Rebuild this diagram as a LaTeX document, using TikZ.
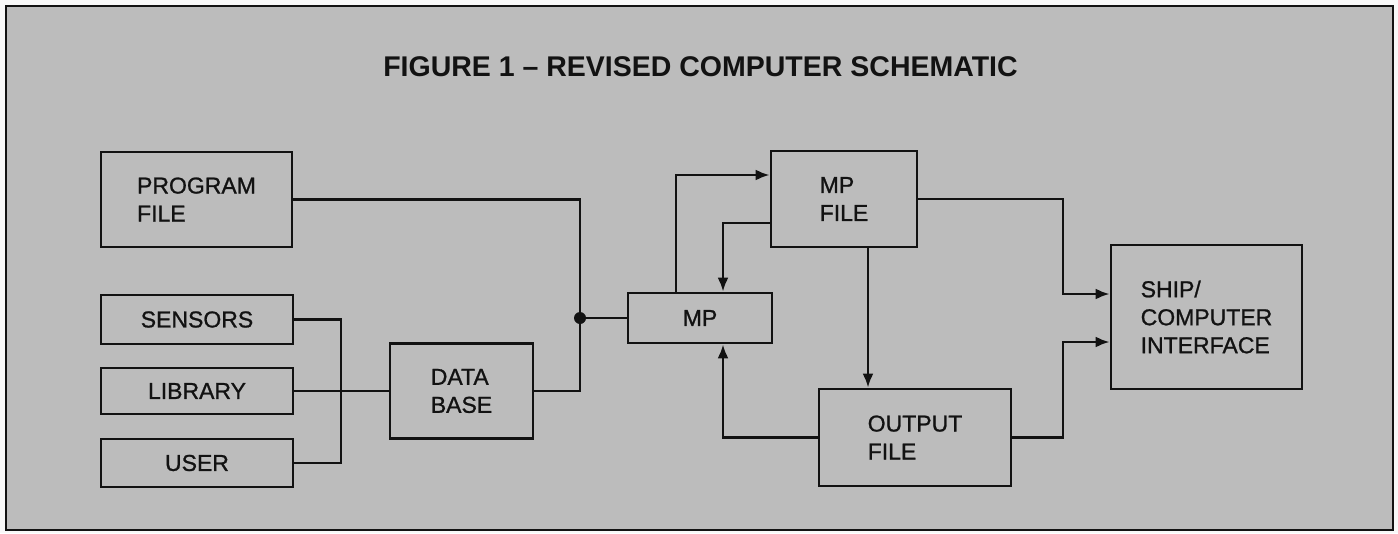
\documentclass[tikz,border=0pt]{standalone}
\usepackage{fontspec}
\setmainfont{Liberation Sans}
\newfontfamily\boxfont[FakeBold=1]{Liberation Sans}
\usetikzlibrary{arrows.meta,calc}
\definecolor{bg}{RGB}{188,188,188}
\definecolor{ink}{RGB}{18,18,18}
\begin{document}
\begin{tikzpicture}[x=1pt,y=-1pt,
 box/.style={draw=ink,line width=2.8pt,rectangle,inner sep=0pt,align=left,
   font=\boxfont\fontsize{23}{28}\selectfont,text=ink},
 wire/.style={draw=ink,line width=2.5pt},
 arr/.style={wire,-{Latex[length=14pt,width=11pt]}}]
\useasboundingbox (0,0) rectangle (1398,533);
\fill[white!90!bg] (0,0) rectangle (1398,533);
\filldraw[fill=bg,draw=ink,line width=2.2pt] (6,6) rectangle (1393,530);

\node[text=ink,font=\bfseries\fontsize{28.5}{32}\selectfont] (title) at (700.5,67) {FIGURE 1 -- REVISED COMPUTER SCHEMATIC};

\node[box,minimum width=191pt,minimum height=95pt] (prog) at (196.5,199.5) {PROGRAM\\FILE};
\node[box,minimum width=192pt,minimum height=49pt] (sens) at (197,319.5) {SENSORS};
\node[box,minimum width=192pt,minimum height=46pt] (lib) at (197,391) {LIBRARY};
\node[box,minimum width=192pt,minimum height=48pt] (user) at (197,463) {USER};
\node[box,minimum width=143pt,minimum height=95pt] (db) at (461.5,391) {DATA\\BASE};
\node[box,minimum width=144pt,minimum height=50pt] (mp) at (700,318) {MP};
\node[box,minimum width=146pt,minimum height=96pt] (mpf) at (844,199) {MP\\FILE};
\node[box,minimum width=192pt,minimum height=97pt] (out) at (915,437.5) {OUTPUT\\FILE};
\node[box,minimum width=191pt,minimum height=144pt] (ship) at (1206.5,317) {SHIP/\\COMPUTER\\INTERFACE};

\coordinate (jn) at (580,318);
\coordinate (bx) at (341,0);
\coordinate (bx2) at (1063,0);
\coordinate (s1) at ([yshift=23pt]ship.west);
\coordinate (s2) at ([yshift=-25pt]ship.west);

% inputs to data base
\draw[wire] (sens.east) -| (bx |- user.east) -- (user.east);
\draw[wire] (lib.east) -- (db.west);
% program file and data base to MP
\draw[wire] (prog.east) -| (jn) |- (db.east);
\draw[wire] (jn) -- (mp.west);
\fill[ink] (jn) circle (6pt);
% MP <-> MP file
\draw[arr] ([xshift=-24pt]mp.north) |- ([yshift=24pt]mpf.west);
\draw[arr] ([yshift=-24pt]mpf.west) -| ([xshift=23pt]mp.north);
% output file to MP
\draw[arr] (out.west) -| ([xshift=23pt]mp.south);
% MP file to output file
\draw[arr] ([xshift=24pt]mpf.south) -- ([xshift=24pt]mpf.south |- out.north);
% to ship/computer interface
\draw[arr] (mpf.east) -| (bx2 |- s1) -- (s1);
\draw[arr] (out.east) -| (bx2 |- s2) -- (s2);
\end{tikzpicture}
\end{document}
